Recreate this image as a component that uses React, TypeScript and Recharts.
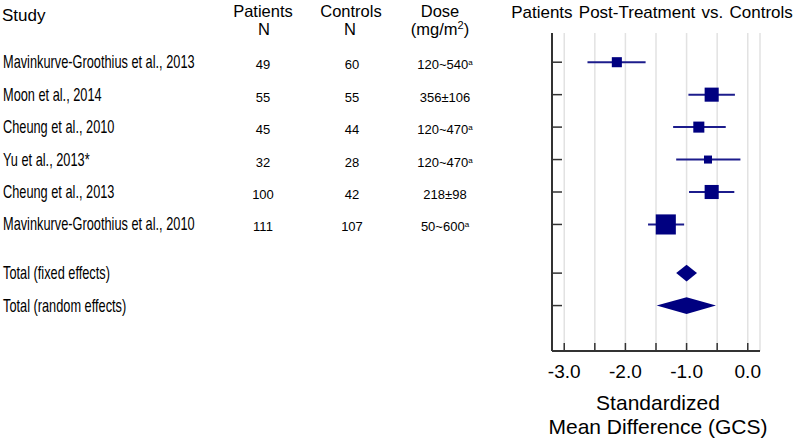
import { ComposedChart, Scatter, Area, XAxis, YAxis, CartesianGrid, ErrorBar, Customized } from 'recharts';

// studies, top to bottom
const studies = [
  'Mavinkurve-Groothius et al., 2013',
  'Moon et al., 2014',
  'Cheung et al., 2010',
  'Yu et al., 2013*',
  'Cheung et al., 2013',
  'Mavinkurve-Groothius et al., 2010',
];
const patientsN = [49, 55, 45, 32, 100, 111];
const controlsN = [60, 55, 44, 28, 42, 107];
const doses = ['120~540', '356±106', '120~470', '120~470', '218±98', '50~600'];
const doseFootnote = [true, false, true, true, false, true];

// standardized mean difference with 95% CI, and weight (%)
const smd = [-2.14, -0.59, -0.8, -0.65, -0.59, -1.34];
const ciLow = [-2.62, -0.97, -1.22, -1.17, -0.96, -1.63];
const ciHigh = [-1.67, -0.21, -0.36, -0.12, -0.22, -1.04];
const weights = [9.3, 18.2, 11.2, 5.9, 18.2, 37.1];

// pooled estimates
const totalLabels = ['Total (fixed effects)', 'Total (random effects)'];
const totalSmd = [-1.0, -1.0];
const totalLow = [-1.17, -1.49];
const totalHigh = [-0.83, -0.52];

const xTicks = [-3.0, -2.5, -2.0, -1.5, -1.0, -0.5, 0.0];

const NAVY = '#000080';
const FONT = '"Liberation Sans", Arial, sans-serif';

// row positions on the y axis (gap of half a row before the totals)
const studyRows = studies.map((_, i) => i + 1);
const totalRows = totalLabels.map((_, j) => studies.length + 1.5 + j);
const allRows = [...studyRows, ...totalRows];

const studyData = studies.map((_, i) => ({
  x: smd[i],
  y: studyRows[i],
  err: [smd[i] - ciLow[i], ciHigh[i] - smd[i]],
  w: weights[i],
}));

const DIAMOND_HALF = 0.26; // half height of a diamond, in rows
const diamondData = totalLabels.map((_, j) => {
  const r = totalRows[j];
  return [
    { x: totalLow[j], band: [r, r] },
    { x: totalSmd[j], band: [r - DIAMOND_HALF, r + DIAMOND_HALF] },
    { x: totalHigh[j], band: [r, r] },
  ];
});

const Square = (props: any) => {
  const { cx, cy, payload } = props;
  const s = Math.sqrt(payload.w) * 3.3;
  return <rect x={cx - s / 2} y={cy - s / 2} width={s} height={s} fill={NAVY} />;
};

const Condensed = ({ y, children }: { y: number; children: any }) => (
  <text transform={`translate(3, ${y}) scale(0.71, 1)`} dy={6} fontSize={18} fill="#000" fontFamily={FONT}>
    {children}
  </text>
);

const RowTick = (props: any) => {
  const { x, y, payload } = props;
  const i = studyRows.indexOf(payload.value);
  const j = totalRows.indexOf(payload.value);
  const num = { fontSize: 13, fill: '#000', fontFamily: FONT, textAnchor: 'middle' as const };
  return (
    <g>
      <line x1={x} x2={x + 10} y1={y} y2={y} stroke="#333" strokeWidth={1.5} />
      {i >= 0 && (
        <g>
          <Condensed y={y}>{studies[i]}</Condensed>
          <text x={263} y={y + 7} {...num}>{patientsN[i]}</text>
          <text x={352} y={y + 7} {...num}>{controlsN[i]}</text>
          <text x={445} y={y + 7} {...num}>
            {doses[i]}
            {doseFootnote[i] && <tspan fontSize={8} dy={-4}>a</tspan>}
          </text>
        </g>
      )}
      {j >= 0 && <Condensed y={y}>{totalLabels[j]}</Condensed>}
    </g>
  );
};

const XTick = (props: any) => {
  const { x, y, payload } = props;
  const v = payload.value;
  return (
    <g>
      <line x1={x} x2={x} y1={y} y2={y - 8} stroke="#333" strokeWidth={1.5} />
      {Number.isInteger(v) && (
        <text x={x} y={y + 27} textAnchor="middle" fontSize={19} fill="#000" fontFamily={FONT}>
          {v.toFixed(1)}
        </text>
      )}
    </g>
  );
};

const Headers = () => {
  const h = { fontSize: 16.5, fill: '#000', fontFamily: FONT, textAnchor: 'middle' as const };
  return (
    <g>
      <text x={2} y={21} fontSize={17} fill="#000" fontFamily={FONT}>Study</text>
      <text x={263} y={17} {...h}>Patients</text>
      <text x={264} y={35} {...h}>N</text>
      <text x={351} y={17} {...h}>Controls</text>
      <text x={350} y={35} {...h}>N</text>
      <text x={440} y={17} {...h}>Dose</text>
      <text x={440} y={35} {...h}>
        (mg/m<tspan fontSize={11} dy={-6}>2</tspan><tspan dy={6}>)</tspan>
      </text>
      <text x={652} y={18} {...h} fontSize={17} wordSpacing={1.5}>
        Patients Post-Treatment vs. Controls
      </text>
      <text x={658} y={410} {...h} fontSize={21}>Standardized</text>
      <text x={658} y={434} {...h} fontSize={21}>Mean Difference (GCS)</text>
    </g>
  );
};

export default function App() {
  return (
    <div style={{ position: 'absolute', left: 0, top: 0, width: 800, height: 438, background: '#fff' }}>
      <ComposedChart width={800} height={438} margin={{ top: 33, right: 40, bottom: 57, left: 492 }}>
        <CartesianGrid horizontal={false} stroke="#e2e2e2" strokeWidth={1.5} />
        <XAxis
          dataKey="x"
          type="number"
          domain={[-3.2, 0.2]}
          ticks={xTicks}
          interval={0}
          height={30}
          tickSize={0}
          tickMargin={0}
          tickLine={false}
          tick={<XTick />}
          axisLine={{ stroke: '#333', strokeWidth: 2 }}
        />
        <YAxis
          dataKey="y"
          type="number"
          domain={[0.1, 9.9]}
          reversed
          ticks={allRows}
          interval={0}
          width={60}
          tickSize={0}
          tickMargin={0}
          tickLine={false}
          tick={<RowTick />}
          axisLine={{ stroke: '#333', strokeWidth: 2 }}
        />
        {diamondData.map((d, j) => (
          <Area
            key={j}
            data={d}
            dataKey="band"
            type="linear"
            stroke="none"
            fill={NAVY}
            fillOpacity={1}
            isAnimationActive={false}
            dot={false}
            activeDot={false}
          />
        ))}
        <Scatter data={studyData} shape={<Square />} isAnimationActive={false}>
          <ErrorBar dataKey="err" direction="x" width={0} stroke="#1c1c8c" strokeWidth={2} isAnimationActive={false} />
        </Scatter>
        <Customized component={Headers} />
      </ComposedChart>
    </div>
  );
}
